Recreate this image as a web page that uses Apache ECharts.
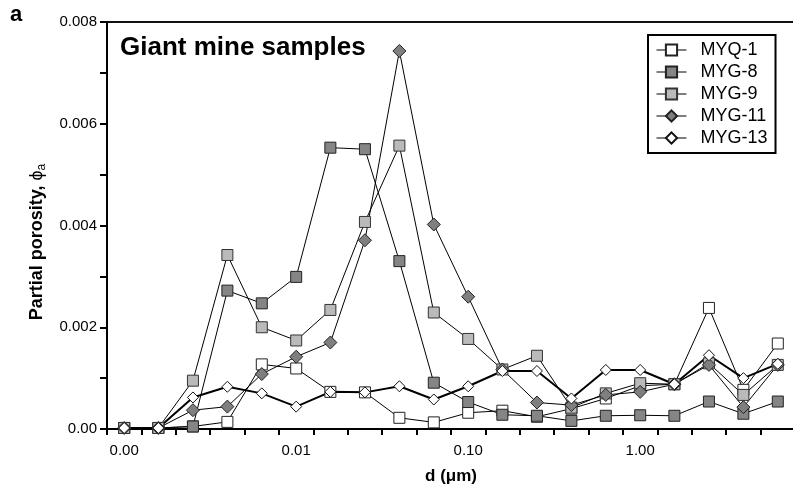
<!DOCTYPE html>
<html>
<head>
<meta charset="utf-8">
<script src="https://cdn.jsdelivr.net/npm/echarts@6/dist/echarts.min.js"></script>
<style>
  html, body { margin: 0; padding: 0; background: #fff; }
  #chart { width: 793px; height: 488px; }
</style>
</head>
<body>
<div id="chart"></div>
<script>
// Pore diameter classes (µm), five per decade
const diameters = [0.001, 0.00158, 0.00251, 0.00398, 0.00631, 0.01, 0.0158, 0.0251, 0.0398, 0.0631,
                   0.1, 0.158, 0.251, 0.398, 0.631, 1, 1.58, 2.51, 3.98, 6.31];

// Partial porosity per diameter class
const myq1  = [0.00002, 0.00002, 0.00005, 0.00014, 0.00127, 0.00119, 0.00073, 0.00072, 0.00022, 0.00013,
               0.00032, 0.00036, 0.00024, 0.00040, 0.00060, 0.00085, 0.00088, 0.00238, 0.00077, 0.00168];
const myg8  = [0.00002, 0.00002, 0.00005, 0.00272, 0.00247, 0.00299, 0.00553, 0.00550, 0.00330, 0.00091,
               0.00053, 0.00028, 0.00026, 0.00016, 0.00026, 0.00027, 0.00026, 0.00054, 0.00030, 0.00054];
const myg9  = [0.00002, 0.00002, 0.00095, 0.00342, 0.00200, 0.00174, 0.00234, 0.00407, 0.00557, 0.00229,
               0.00177, 0.00117, 0.00144, 0.00042, 0.00070, 0.00090, 0.00088, 0.00129, 0.00067, 0.00126];
const myg11 = [0.00002, 0.00002, 0.00037, 0.00044, 0.00108, 0.00142, 0.00170, 0.00371, 0.00743, 0.00402,
               0.00260, 0.00117, 0.00052, 0.00047, 0.00067, 0.00073, 0.00088, 0.00126, 0.00043, 0.00126];
const myg13 = [0.00002, 0.00002, 0.00062, 0.00083, 0.00070, 0.00044, 0.00073, 0.00072, 0.00084, 0.00058,
               0.00084, 0.00114, 0.00114, 0.00060, 0.00116, 0.00116, 0.00088, 0.00145, 0.00100, 0.00128];

const seriesNames = ['MYQ-1', 'MYG-8', 'MYG-9', 'MYG-11', 'MYG-13'];

// Axis ticks and labels (x axis in log10 of diameter)
const xLabelDecades = [-3, -2, -1, 0];
const xTickLabels = ['0.00', '0.01', '0.10', '1.00'];
const xTickBounds = [-3.1, -2.9, -2.7, -2.5, -2.3, -2.1, -1.9, -1.7, -1.5, -1.3, -1.1,
                     -0.9, -0.7, -0.5, -0.3, -0.1, 0.1, 0.3, 0.5, 0.7, 0.9];
const yLabelValues = [0, 0.002, 0.004, 0.006, 0.008];
const yTickLabels = ['0.00', '0.002', '0.004', '0.006', '0.008'];
const yTickValues = [0, 0.001, 0.002, 0.003, 0.004, 0.005, 0.006, 0.007, 0.008];

const FONT = '"Liberation Sans", Arial, Helvetica, sans-serif';

function toPoints(values) {
  return diameters.map((d, i) => [Math.log10(d), values[i]]);
}

function lineSeries(name, values, symbol, size, fill, border, lineWidth) {
  return {
    name: name,
    type: 'line',
    data: toPoints(values),
    symbol: symbol,
    symbolSize: size,
    showAllSymbol: true,
    animation: false,
    lineStyle: { color: '#000', width: lineWidth },
    itemStyle: { color: fill, borderColor: border, borderWidth: 1 },
    emphasis: { disabled: true }
  };
}

const chart = echarts.init(document.getElementById('chart'), null, { renderer: 'canvas' });

chart.setOption({
  backgroundColor: '#fff',
  animation: false,
  textStyle: { fontFamily: FONT },
  grid: {
    left: 107, top: 22, right: -2, bottom: 59,
    outerBoundsMode: 'none',
    containLabel: false,
    show: true, borderColor: '#111', borderWidth: 2, backgroundColor: 'transparent'
  },
  xAxis: {
    type: 'value',
    min: -3.1, max: 0.9,
    name: 'd (\u03BCm)',
    nameLocation: 'middle',
    nameGap: 39,
    nameTextStyle: { fontFamily: FONT, fontSize: 17, fontWeight: 'bold', color: '#000' },
    splitLine: { show: false },
    axisLine: { onZero: false, lineStyle: { color: '#000', width: 2 } },
    axisTick: { show: true, inside: false, length: 6, customValues: xTickBounds,
                lineStyle: { color: '#000', width: 2 } },
    axisLabel: {
      customValues: xLabelDecades,
      margin: 14,
      fontSize: 15, color: '#000', fontFamily: FONT,
      formatter: v => xTickLabels[xLabelDecades.indexOf(Math.round(v))] || ''
    }
  },
  yAxis: {
    type: 'value',
    min: 0, max: 0.008, interval: 0.001,
    splitLine: { show: false },
    axisLine: { onZero: false, lineStyle: { color: '#000', width: 2 } },
    axisTick: { show: true, inside: false, length: 7, customValues: yTickValues,
                lineStyle: { color: '#000', width: 2 } },
    axisLabel: {
      customValues: yLabelValues,
      margin: 10,
      fontSize: 15, color: '#000', fontFamily: FONT,
      formatter: v => {
        const idx = yLabelValues.findIndex(t => Math.abs(t - v) < 1e-9);
        return idx >= 0 ? yTickLabels[idx] : '';
      }
    }
  },
  legend: {
    orient: 'vertical',
    left: 648, top: 35,
    padding: [4, 8, 4, 8],
    itemWidth: 30, itemHeight: 14,
    itemGap: 0,
    borderColor: '#000', borderWidth: 2,
    backgroundColor: '#fff',
    selectedMode: false,
    textStyle: { fontFamily: FONT, fontSize: 18, color: '#000', lineHeight: 22, padding: [0, 0, 0, 9] },
    data: seriesNames.map(n => ({ name: n, lineStyle: { width: 1 } }))
  },
  graphic: [
    {
      type: 'text', left: 10, top: 4,
      style: { text: 'a', font: 'bold 22px ' + FONT, fill: '#000' }
    },
    {
      type: 'text', x: 120, y: 48,
      style: { text: 'Giant mine samples', font: 'bold 26px ' + FONT, fill: '#000',
               textAlign: 'left', textVerticalAlign: 'middle' }
    },
    {
      type: 'text', x: 37, y: 242, rotation: Math.PI / 2,
      style: {
        text: '{b|Partial porosity, }{p|\u03D5}{s|a}',
        textAlign: 'center', textVerticalAlign: 'middle',
        rich: {
          b: { fontFamily: FONT, fontSize: 18, fontWeight: 'bold', fill: '#000' },
          p: { fontFamily: FONT, fontSize: 18, fill: '#000' },
          s: { fontFamily: FONT, fontSize: 12, fill: '#000', padding: [9, 0, 0, 0] }
        }
      }
    }
  ],
  series: [
    lineSeries(seriesNames[0], myq1,  'rect',    11, '#ffffff', '#222', 1),
    lineSeries(seriesNames[1], myg8,  'rect',    11, '#858585', '#222', 1),
    lineSeries(seriesNames[2], myg9,  'rect',    11, '#bababa', '#333', 1),
    lineSeries(seriesNames[3], myg11, 'diamond', 13, '#7f7f7f', '#222', 1),
    lineSeries(seriesNames[4], myg13, 'diamond', 11, '#ffffff', '#111', 2)
  ]
});
</script>
</body>
</html>
